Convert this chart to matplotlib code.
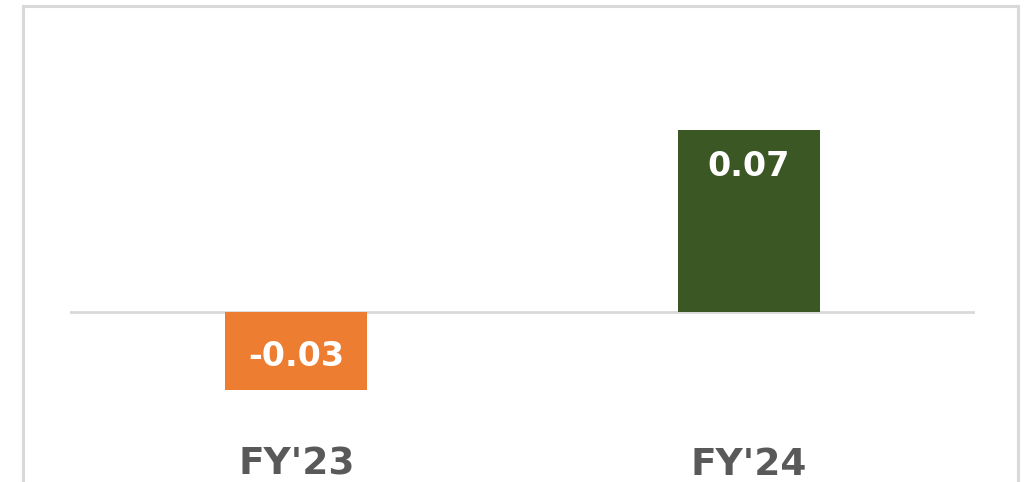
import matplotlib
matplotlib.use('Agg')
import matplotlib.pyplot as plt
from matplotlib.lines import Line2D

# values per fiscal year
years = ["FY'23", "FY'24"]
values = [-0.03, 0.07]
labels = ["-0.03", "0.07"]
bar_colors = ['#ED7D31', '#3A5724']

W, H = 1025, 482
fig = plt.figure(figsize=(W / 100, H / 100), dpi=100)

# light grey frame around the chart (open at the bottom)
frame = '#D9D9D9'
fx0, fx1, fy1 = 23 / W, 1018 / W, 1 - 6 / H
fig.add_artist(Line2D([fx0, fx0], [0, fy1], color=frame, lw=2.2, transform=fig.transFigure))
fig.add_artist(Line2D([fx0, fx1], [fy1, fy1], color=frame, lw=2.2, transform=fig.transFigure))
fig.add_artist(Line2D([fx1, fx1], [0, fy1], color=frame, lw=2.2, transform=fig.transFigure))

# plot area: x 70..975 px, y 6..430 px, zero line at 312 px
top_px, bot_px, zero_px, scale = 6, 430, 312, 2600.0
ax = fig.add_axes([70 / W, 1 - bot_px / H, 905 / W, (bot_px - top_px) / H])
ax.set_ylim(-(bot_px - zero_px) / scale, (zero_px - top_px) / scale)
ax.set_xlim(-0.5, 1.5)

x = range(len(years))
bars = ax.bar(x, values, width=0.313, color=bar_colors, zorder=2)
ax.axhline(0, color=frame, lw=2, zorder=1)

for xi, v, lab in zip(x, values, labels):
    off = -36 if v > 0 else 34
    ax.annotate(lab, (xi, v), xytext=(0, off * 0.72), textcoords='offset points',
                ha='center', va='center', color='white', fontsize=24,
                fontweight='bold', family='DejaVu Sans', zorder=3)

ax.set_xticks(list(x))
ax.set_xticklabels(years, fontsize=27, fontweight='bold', color='#595959', family='DejaVu Sans')
ax.tick_params(axis='x', length=0, pad=12)
ax.set_yticks([])
for s in ax.spines.values():
    s.set_visible(False)
ax.patch.set_alpha(0)

fig.savefig('out.png', dpi=100)
